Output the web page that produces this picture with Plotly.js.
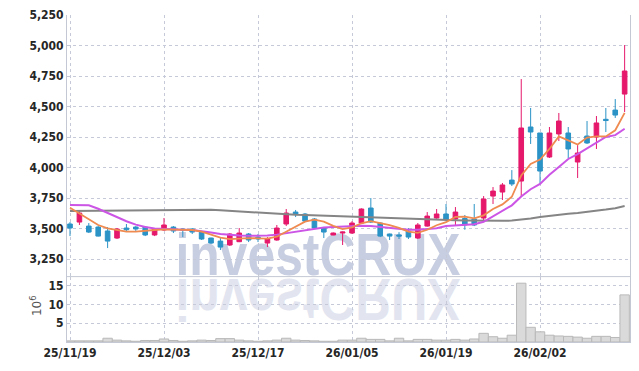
<!DOCTYPE html>
<html><head><meta charset="utf-8">
<script src="https://cdn.plot.ly/plotly-3.0.1.min.js"></script>
<style>html,body{margin:0;padding:0;background:#fff}#chart{width:639px;height:371px}</style>
</head><body><div id="chart"></div>
<script>
const dates = ['25/11/19','25/11/20','25/11/21','25/11/24','25/11/25','25/11/26','25/11/27','25/11/28',
 '25/12/01','25/12/02','25/12/03','25/12/04','25/12/05','25/12/08','25/12/09','25/12/10','25/12/11','25/12/12',
 '25/12/15','25/12/16','25/12/17','25/12/18','25/12/19','25/12/22','25/12/23','25/12/24','25/12/26','25/12/29',
 '25/12/30','26/01/02','26/01/05','26/01/06','26/01/07','26/01/08','26/01/09','26/01/12','26/01/13','26/01/14',
 '26/01/15','26/01/16','26/01/19','26/01/20','26/01/21','26/01/22','26/01/23','26/01/26','26/01/27','26/01/28',
 '26/01/29','26/01/30','26/02/02','26/02/03','26/02/04','26/02/05','26/02/06','26/02/09','26/02/10','26/02/11',
 '26/02/12','26/02/13'];
const openP  = [3537,3553,3520,3512,3480,3422,3504,3512,3512,3447,3488,3512,3496,3496,3471,3422,3397,3365,3392,3455,
 3430,3381,3406,3537,3635,3619,3578,3504,3447,3463,3463,3545,3668,3545,3455,3447,3479,3422,3520,3586,
 3619,3578,3582,3578,3586,3766,3799,3897,3889,4332,4283,4086,4275,4283,4045,4258,4250,4395,4471,4602];
const highP  = [3553,3643,3545,3520,3512,3504,3537,3520,3520,3500,3586,3520,3500,3504,3480,3425,3422,3463,3504,3463,
 3455,3430,3529,3660,3652,3627,3586,3510,3468,3475,3560,3665,3750,3550,3458,3470,3504,3545,3635,3660,
 3701,3676,3611,3701,3766,3840,3873,3979,4725,4488,4283,4332,4447,4332,4184,4381,4422,4488,4561,5004];
const lowP   = [3438,3529,3463,3435,3340,3414,3480,3480,3438,3438,3480,3463,3430,3455,3406,3373,3324,3357,3389,3389,
 3389,3348,3400,3520,3594,3553,3496,3422,3445,3365,3455,3540,3545,3430,3406,3414,3414,3414,3515,3580,
 3561,3529,3490,3520,3561,3701,3734,3848,3766,4193,3873,4078,4217,4078,3914,4193,4152,4291,4406,4455];
const closeP = [3504,3627,3471,3438,3397,3496,3490,3496,3447,3496,3529,3480,3488,3471,3414,3381,3348,3455,3463,3406,
 3414,3418,3504,3627,3619,3561,3504,3471,3463,3471,3545,3660,3553,3438,3438,3438,3430,3529,3602,3619,
 3578,3635,3530,3529,3742,3807,3857,3865,4324,4291,3971,4283,4381,4152,4119,4201,4365,4385,4430,4791];
const volumeM = [0.3,0.3,0.3,0.3,1.0,0.5,0.3,0.2,0.4,0.4,0.8,0.4,0.2,0.3,0.5,0.4,0.9,0.9,0.5,0.3,
 0.2,0.3,0.5,1.0,0.5,0.4,0.3,0.2,0.2,0.5,0.5,1.0,0.7,0.7,0.3,1.0,0.3,0.7,0.7,0.5,
 0.5,0.7,0.5,0.8,2.3,1.4,1.0,1.8,15.6,3.9,2.7,1.8,1.6,1.5,1.3,1.0,1.5,1.5,1.2,12.5];
const ma5 = [3670,3624,3575,3529,3501,3490,3474,3474,3478,3488,3493,3493,3493,3488,3474,3447,3425,3413,3418,3422,
 3420,3418,3433,3474,3520,3556,3572,3556,3522,3495,3510,3543,3560,3545,3527,3505,3474,3465,3490,3527,
 3552,3595,3597,3584,3608,3660,3698,3760,3935,4030,4065,4152,4255,4222,4188,4245,4255,4255,4305,4448];
const ma10 = [3693,3693,3690,3662,3627,3592,3560,3532,3512,3500,3495,3493,3490,3487,3480,3468,3455,3447,3443,3440,
 3440,3443,3450,3462,3475,3488,3500,3508,3512,3516,3520,3522,3520,3512,3500,3493,3490,3490,3495,3502,
 3520,3525,3530,3535,3555,3600,3650,3690,3762,3822,3866,3940,4005,4070,4110,4155,4200,4250,4265,4318];
const maLong = [3643,3644,3645,3646,3647,3648,3649,3650,3651,3652,3653,3654,3655,3655,3655,3653,3650,3645,3638,3632,
 3626,3622,3618,3615,3612,3610,3607,3604,3601,3599,3597,3595,3593,3590,3587,3585,3582,3578,3575,3572,
 3569,3567,3565,3563,3562,3562,3563,3565,3572,3582,3594,3605,3616,3622,3628,3635,3645,3655,3667,3684];
const xTickLabels = ['25/11/19','25/12/03','25/12/17','26/01/05','26/01/19','26/02/02'];
const priceTicks = [3250,3500,3750,4000,4250,4500,4750,5000,5250];
const volTicks = [5,10,15];

const UP = '#e5186b', DOWN = '#2b93c6';
const tickFont = {family:'DejaVu Sans Condensed, DejaVu Sans, sans-serif', size:12, color:'#262626', weight:'bold'};
const gridC = '#c6cad8', borderC = '#c4c8d4';

const data = [
  {type:'candlestick', x:dates, open:openP, high:highP, low:lowP, close:closeP, xaxis:'x', yaxis:'y',
   increasing:{line:{color:UP,width:1}, fillcolor:UP}, decreasing:{line:{color:DOWN,width:1}, fillcolor:DOWN},
   whiskerwidth:0, showlegend:false, hoverinfo:'skip'},
  {type:'scatter', mode:'lines', x:dates, y:maLong, line:{color:'#858585', width:2}, xaxis:'x', yaxis:'y', showlegend:false},
  {type:'scatter', mode:'lines', x:dates, y:ma10, line:{color:'#cc55e6', width:2}, xaxis:'x', yaxis:'y', showlegend:false},
  {type:'scatter', mode:'lines', x:dates, y:ma5, line:{color:'#ef8a50', width:1.8}, xaxis:'x', yaxis:'y', showlegend:false},
  {type:'bar', x:dates, y:volumeM, xaxis:'x', yaxis:'y2', marker:{color:'#dadada', line:{color:'#b9b9b9', width:1}}, showlegend:false}
];

const layout = {
  width:639, height:371, margin:{l:67, r:9, t:15, b:29},
  paper_bgcolor:'#fff', plot_bgcolor:'#fff', bargap:0, showlegend:false,
  xaxis:{type:'category', range:[-0.32, 59.57], anchor:'y2', tickvals:xTickLabels, ticktext:xTickLabels,
         showgrid:true, gridcolor:gridC, griddash:'dot', gridwidth:1, showline:true, linecolor:borderC,
         ticks:'', tickfont:tickFont, rangeslider:{visible:false}, zeroline:false},
  yaxis:{domain:[0.2,1], range:[3106,5250], tickvals:priceTicks, tickformat:',', showgrid:true, gridcolor:gridC,
         griddash:'dot', showline:true, mirror:true, linecolor:borderC, ticks:'', tickfont:tickFont, zeroline:false},
  yaxis2:{domain:[0,0.2], range:[0,17.35], tickvals:volTicks, showgrid:true, gridcolor:gridC, griddash:'dot',
         showline:true, mirror:true, linecolor:borderC, ticks:'', tickfont:tickFont, zeroline:false},
  shapes:[{type:'line', xref:'paper', yref:'paper', x0:0, x1:1, y0:0.2, y1:0.2, line:{color:borderC, width:1}}],
  annotations:[
    {text:'investCRUX', xref:'paper', yref:'paper', x:0.444, y:0.2, xanchor:'center', yanchor:'bottom', showarrow:false,
     font:{family:'Liberation Sans, Arial, sans-serif', size:60, color:'#c8cee1', weight:'bold'}},
    {text:'investCRUX', xref:'paper', yref:'paper', x:0.444, y:0.2, xanchor:'center', yanchor:'bottom', showarrow:false,
     font:{family:'Liberation Sans, Arial, sans-serif', size:60, color:'#e2e5ef', weight:'bold'}},
    {text:'10<sup>6</sup>', xref:'paper', yref:'paper', x:-0.055, y:0.11, xanchor:'center', yanchor:'middle',
     showarrow:false, textangle:-90, font:{family:'DejaVu Sans, sans-serif', size:12, color:'#555'}}
  ]
};

const gd = document.getElementById('chart');
Plotly.newPlot(gd, data, layout, {staticPlot:true}).then(() => {
  const below = gd.querySelector('.layer-below');
  const host = gd.getBoundingClientRect();
  const anns = Array.from(gd.querySelectorAll('.annotation'));
  const wm = anns.filter(a => a.textContent === 'investCRUX');
  const targetW = 285, targetCx = 318, baseMain = 275.5, baseMirror = 278.5;
  wm.forEach((a, k) => {
    below.appendChild(a);
    const t = a.querySelector('text');
    const r = t.getBoundingClientRect();
    const left = r.left - host.left, right = r.right - host.left;
    const baseline = (r.bottom - host.top) - 0.212 * 60;
    const s = targetW / (right - left);
    const cx = (left + right) / 2;
    const tx = targetCx - s * cx;
    if (k === 0) a.setAttribute('transform', 'translate(' + tx + ',' + (baseMain - baseline) + ') scale(' + s + ',1)');
    else a.setAttribute('transform', 'translate(' + tx + ',' + (baseMirror + baseline) + ') scale(' + s + ',-1)');
  });
});
</script>
</body></html>
